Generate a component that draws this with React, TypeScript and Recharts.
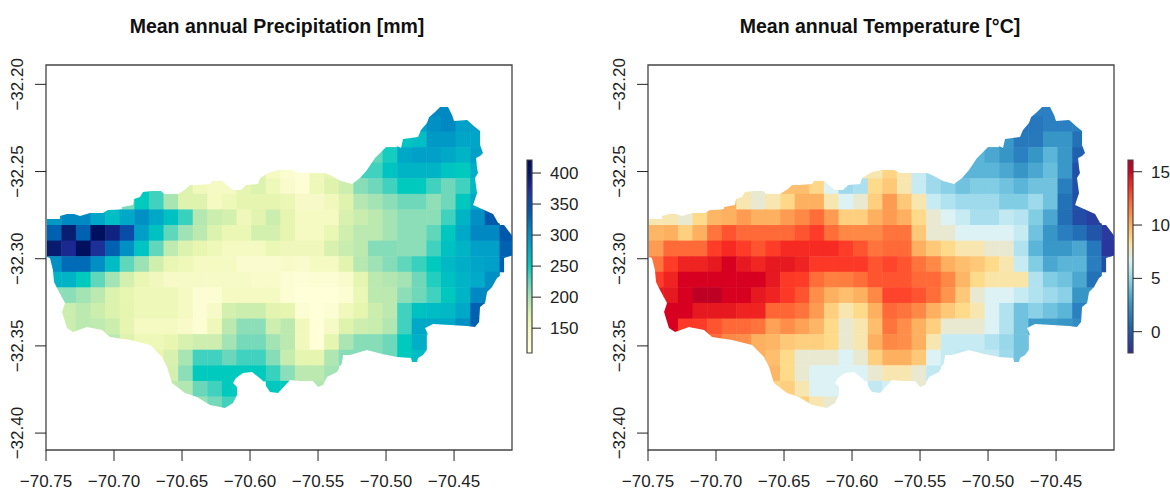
import React from "react";
import { ScatterChart, Scatter, XAxis, YAxis, ReferenceArea } from "recharts";

const n = null;
const xTicks = [-70.75, -70.7, -70.65, -70.6, -70.55, -70.5, -70.45];
const yTicks = [-32.2, -32.25, -32.3, -32.35, -32.4];
const X_DOMAIN: [number, number] = [-70.75, -70.4074];
const Y_DOMAIN: [number, number] = [-32.4097, -32.1889];
const LON0 = -70.7493;
const LAT0 = -32.2093;
const D_LON = 0.010735;
const D_LAT = 0.00894;

const precipTicks = [150, 200, 250, 300, 350, 400];
const precipRange: [number, number] = [110, 421];
const tempTicks = [0, 5, 10, 15];
const tempRange: [number, number] = [-2, 16.1];

const precipRampValues = [110, 118, 128, 135, 142, 147, 153, 157, 161, 165, 170, 175, 181, 190, 200, 210, 220, 235, 250, 262, 270, 280, 287, 300, 308, 328, 340, 352, 372, 378, 392, 415, 421];
const precipRampColors = ["#FFFFD9", "#FFFFD8", "#FCFDD2", "#F9FBCC", "#F6FAC6", "#F4FAC2", "#F0F8BC", "#EEF8B8", "#EAF6B4", "#E6F5B0", "#DFF3AF", "#D8F1AE", "#CDEEAE", "#BBE9B0", "#A4E3B4", "#8CDEB8", "#70D8BA", "#40D2BE", "#00CABE", "#00BCC4", "#00B4C6", "#00A8C8", "#00A0C8", "#0090C4", "#0088C2", "#0066B4", "#0058AC", "#0A4CA8", "#1C3098", "#1A2890", "#081E70", "#000F5E", "#000D58"];

const tempRampValues = [-2, -1.4, -0.4, 0.6, 1.7, 2.7, 3.7, 4.6, 5.4, 6.1, 6.8, 7.4, 8, 8.4, 8.7, 9.3, 10, 10.7, 11.5, 12.1, 12.6, 13.2, 13.7, 14.3, 15, 15.7, 16.1];
const tempRampColors = ["#2B2F95", "#2A3A9E", "#2050A8", "#1F68B2", "#2A80C0", "#3A98C8", "#5BB5D8", "#80CDE4", "#A8DEEE", "#C6EBF3", "#DDF2F5", "#E9E9D2", "#F8E6B0", "#FEE090", "#FED888", "#FDC574", "#FDB060", "#FE9850", "#FE7E40", "#FF6A38", "#FE5530", "#FE3C28", "#F62A22", "#E81C20", "#D70020", "#C40024", "#BD0026"];

// [first column, values] per raster row, north to south
const precipitation: [number, (number | null)[]][] = [
  [26, [308, 308]],
  [25, [287, 300, 308, 287, 287]],
  [24, [255, 260, 293, 293, 283, 283]],
  [22, [225, 245, 280, 287, 287, 280, 270, 287]],
  [14, [170, 147, 130, 125, 157, 165, n, 235, 235, 255, 270, 270, 270, 255, 250, 275]],
  [6, [250, 235, n, 170, 153, 145, 145, 165, 172, 157, 135, 125, 157, 170, 181, 212, 220, 235, 250, 250, 235, 220, 235, 265]],
  [5, [215, 250, 235, 198, 170, 170, 147, 157, 165, 165, 165, 160, 140, 140, 153, 170, 193, 200, 210, 220, 220, 208, 220, 252, 280]],
  [0, [293, 308, 308, 283, 260, 280, 300, 280, 258, 237, 193, 182, 178, 155, 167, 182, 165, 147, 147, 147, 175, 183, 190, 200, 210, 210, 210, 235, 270, 300, 340]],
  [0, [332, 392, 332, 415, 385, 352, 288, 258, 225, 202, 190, 172, 160, 160, 177, 177, 165, 147, 147, 160, 180, 190, 190, 200, 210, 210, 225, 252, 280, 308, 308, 340]],
  [0, [395, 378, 415, 372, 332, 300, 255, 225, 188, 172, 163, 157, 147, 147, 147, 160, 155, 155, 155, 175, 183, 190, 213, 213, 210, 210, 235, 258, 270, 287, 287, 332]],
  [0, [300, 325, 325, 300, 262, 225, 203, 180, 161, 157, 147, 147, 147, 132, 132, 132, 138, 135, 147, 147, 168, 192, 202, 213, 225, 237, 250, 265, 275, 283, 287, 332]],
  [0, [270, 270, 250, 225, 200, 178, 161, 152, 142, 142, 142, 142, 142, 142, 136, 136, 128, 122, 128, 128, 135, 165, 190, 194, 200, 220, 242, 258, 270, 278, 300]],
  [0, [210, 210, 200, 190, 172, 163, 157, 157, 157, 147, 128, 128, 147, 147, 147, 147, 128, 118, 118, 118, 126, 160, 190, 190, 210, 220, 235, 252, 270, 308, 308]],
  [0, [182, 182, 190, 182, 172, 165, 157, 157, 157, 147, 128, 142, 178, 182, 182, 167, 165, 128, 118, 128, 153, 165, 182, 190, 235, 258, 262, 265, 280, 332]],
  [1, [182, 190, 188, 182, 165, 147, 147, 147, 138, 128, 157, 190, 210, 210, 181, 190, 153, 118, 142, 170, 181, 183, 194, 235, 280, 280, 280, 300, 332]],
  [4, [190, 170, 157, 157, 163, 175, 181, 181, 200, 218, 218, 200, 190, 153, 118, 165, 197, 212, 212, 220, 250, 275]],
  [7, [163, 175, 198, 235, 235, 222, 235, 235, 212, 184, 165, 165, 195, 212, 212, 212, 220, 250, 262]],
  [8, [177, 210, 250, 250, 250, 250, 250, 237, 210, 190, 190, 200]],
  [8, [190, 194, 222, 235, 250, n, n, 252, 250, n, 195]],
  [10, [205, 218, 235]],
];

const temperature: [number, (number | null)[]][] = [
  [26, [1.7, 1.7]],
  [25, [1.3, 1.3, 1.7, 1.7, 1.7]],
  [24, [2.7, 1.4, 1.4, 2.6, 2.6, 1]],
  [22, [3.7, 3.2, 2.6, 1.7, 2.6, 3.7, 2.7, 0.3]],
  [14, [8, 8, 8.8, 8, 6.1, 5.2, n, 3.7, 3.7, 3.7, 3.2, 2.6, 3.2, 4, 2.7, -0.4]],
  [6, [8, 7.4, n, 9.5, 9.5, 8.7, 6.8, 5.2, 5.5, 8.6, 9.2, 8, 6.1, 5.2, 4.8, 4.2, 4.6, 4.6, 4.2, 3.7, 4.2, 4.2, 1.6, -0.4]],
  [5, [10, 8, 7.4, 8, 8.7, 10, 10, 8, 6.8, 7.4, 9, 10.6, 9.2, 8, 6.1, 5.6, 5.2, 5.2, 5.2, 4.6, 4.6, 5.2, 4.2, 1, -0.4]],
  [0, [8, 8, 7.4, 8.6, 9.8, 10, 10.6, 10, 10, 10.6, 11.2, 12, 10.6, 9, 9, 10, 10.6, 10, 8.6, 7.4, 6.8, 6.1, 5.4, 5.4, 6, 5.7, 4.6, 3.2, 0.9, -0.6, -1.2]],
  [0, [9.8, 10, 9, 10, 11.8, 12.6, 12.1, 12.1, 12.1, 12.1, 12.6, 13.2, 12, 11.2, 11.2, 11.2, 11.8, 11.8, 9.2, 7.4, 7.4, 6.8, 6.8, 6.8, 6.8, 6.1, 4.2, 2.6, 1.6, 0.9, -0.2, -1.4]],
  [0, [10.6, 12.1, 12.1, 12.1, 13.2, 13.7, 13.2, 12.6, 13.2, 13.7, 13.7, 13.7, 13.7, 13.2, 12.6, 11.8, 12.1, 12.1, 10, 9.2, 8.6, 8, 8, 7.4, 7.4, 5.6, 3.7, 2.7, 2.7, 3.2, 1.3, -1.6]],
  [0, [11.8, 13.2, 14, 14, 14.4, 15, 14.4, 13.9, 14.4, 14.4, 14, 13.3, 13.3, 13.3, 13.3, 12.6, 13, 12.6, 11.8, 11.2, 10, 9.5, 9.2, 8.6, 8, 6.1, 4.6, 3.2, 3.7, 3.7, 1.6, -0.5]],
  [0, [13.2, 14, 15, 15, 15, 15, 15, 15, 14.4, 13.3, 13.2, 12, 11.4, 11.5, 12, 12.6, 12.6, 12.6, 12.1, 12.1, 11.2, 9.8, 8.6, 8.1, 8.1, 8.1, 5.6, 4.6, 4.2, 3.2, 1]],
  [0, [14.4, 14.4, 15, 16, 16, 15, 15, 14.4, 14, 13.3, 12.6, 11, 10, 9.5, 10, 11.2, 13, 13, 12.6, 12, 10.8, 9.2, 7.4, 6.8, 6.8, 6.1, 5.6, 5.2, 4.8, 2.6, 2.6]],
  [0, [15, 15, 15, 14.4, 14.4, 14.4, 14, 14, 12.2, 12.2, 11.8, 10.6, 9, 8, 8.6, 10, 12.1, 11.8, 11.2, 10, 9.2, 8.6, 8, 6.8, 5.6, 4.2, 4.8, 4.2, 3.7, 1.7]],
  [1, [15, 13.3, 13.2, 12.6, 12.1, 12.1, 11.8, 10.4, 11, 10.4, 9.8, 8.6, 7.4, 8, 9.5, 11.8, 11, 10, 9, 7.4, 7.4, 7.4, 6.8, 5.6, 4.2, 2.8, 2.8, 2.6, 2.2]],
  [4, [12.1, 11.2, 11, 10, 9.8, 9.2, 9, 9, 8.6, 7.4, 8, 10, 11.2, 11, 10, 8, 6.1, 6.1, 6.1, 5.6, 5.1, 4.2]],
  [7, [10, 9.5, 8.6, 7.4, 7.4, 7.4, 6.8, 7.4, 9, 10, 10, 9.2, 6.8, 6.1, 6, 6, 6, 5.2, 4.2]],
  [8, [9.8, 8.6, 7.4, 6.8, 6.8, 6.8, 6.8, 7.4, 8, 8, 7.4, 6]],
  [8, [8.8, 9, 8, 6.8, 6.8, n, n, 6, 6.5, n, 7.4]],
  [10, [9, 8, 7.4]],
];

// catchment outline, [lon, lat]
const outline: [number, number][] = [
  [-70.7493, -32.2772], [-70.7397, -32.2772], [-70.7397, -32.2755], [-70.7346, -32.2744], [-70.7294, -32.2744], [-70.725, -32.2755], [-70.7176, -32.2738], [-70.7081, -32.2738], [-70.7044, -32.2721], [-70.6941, -32.2715],
  [-70.6941, -32.2704], [-70.686, -32.2692], [-70.6853, -32.2658], [-70.6809, -32.2646], [-70.6787, -32.2618], [-70.6721, -32.2612], [-70.6654, -32.2612], [-70.6632, -32.2629], [-70.6529, -32.2629], [-70.6471, -32.26],
  [-70.6441, -32.2577], [-70.639, -32.2577], [-70.6294, -32.2572], [-70.6279, -32.2554], [-70.6206, -32.2554], [-70.6162, -32.2583], [-70.6125, -32.2606], [-70.6066, -32.2606], [-70.6029, -32.2577], [-70.5941, -32.2572],
  [-70.5926, -32.2537], [-70.5853, -32.2503], [-70.5779, -32.2491], [-70.5691, -32.2491], [-70.5647, -32.2509], [-70.5581, -32.2509], [-70.5449, -32.2509], [-70.5397, -32.2526], [-70.5331, -32.2554], [-70.525, -32.2572],
  [-70.5191, -32.2537], [-70.514, -32.2491], [-70.5081, -32.2423], [-70.5029, -32.2382], [-70.4993, -32.2354], [-70.4919, -32.2354], [-70.489, -32.2365], [-70.4875, -32.2314], [-70.4765, -32.2302], [-70.4743, -32.2262],
  [-70.4699, -32.2222], [-70.4684, -32.2188], [-70.464, -32.2159], [-70.4603, -32.213], [-70.4544, -32.213], [-70.4515, -32.2176], [-70.45, -32.221], [-70.4404, -32.2205], [-70.4346, -32.2245], [-70.4309, -32.2268],
  [-70.4309, -32.2348], [-70.4287, -32.2394], [-70.4309, -32.2411], [-70.4338, -32.2423], [-70.4331, -32.248], [-70.4324, -32.2509], [-70.4346, -32.2537], [-70.4331, -32.2623], [-70.436, -32.2692], [-70.4279, -32.2721],
  [-70.4213, -32.2744], [-70.4176, -32.2795], [-70.4132, -32.2807], [-70.4088, -32.2853], [-70.4066, -32.2876], [-70.4066, -32.2979], [-70.4132, -32.2996], [-70.4132, -32.3082], [-70.4184, -32.3111], [-70.4221, -32.3162],
  [-70.4257, -32.3191], [-70.4272, -32.3254], [-70.4309, -32.3277], [-70.4316, -32.3363], [-70.4346, -32.3392], [-70.4404, -32.3386], [-70.4529, -32.338], [-70.4654, -32.3374], [-70.4713, -32.3397], [-70.4691, -32.3438],
  [-70.4691, -32.3512], [-70.4728, -32.3552], [-70.4765, -32.3569], [-70.4772, -32.3592], [-70.4809, -32.3592], [-70.4816, -32.3569], [-70.4919, -32.3564], [-70.5029, -32.3546], [-70.514, -32.3524], [-70.5265, -32.3552],
  [-70.5316, -32.3552], [-70.5324, -32.3598], [-70.536, -32.365], [-70.5434, -32.3678], [-70.5463, -32.3724], [-70.55, -32.3736], [-70.5537, -32.3701], [-70.5632, -32.3701], [-70.5706, -32.3696], [-70.5794, -32.377],
  [-70.5853, -32.3764], [-70.5912, -32.3696], [-70.5985, -32.365], [-70.6051, -32.3655], [-70.6103, -32.3684], [-70.6125, -32.3713], [-70.6096, -32.3736], [-70.6096, -32.3782], [-70.6125, -32.3827], [-70.6184, -32.3856],
  [-70.6294, -32.3839], [-70.639, -32.3793], [-70.6478, -32.377], [-70.6574, -32.3713], [-70.661, -32.3621], [-70.6647, -32.3564], [-70.6735, -32.3495], [-70.6882, -32.3466], [-70.7029, -32.3449], [-70.7088, -32.3409],
  [-70.7199, -32.3392], [-70.7301, -32.342], [-70.7346, -32.3397], [-70.7382, -32.3306], [-70.736, -32.3254], [-70.7412, -32.318], [-70.7441, -32.3134], [-70.7449, -32.3065], [-70.7471, -32.2996], [-70.7493, -32.299],
];

const FONT = '"Liberation Sans", Arial, sans-serif';
const INK = "#222";
const FRAME = "#444";
const PLOT_W = 466;
const PLOT_H = 385;
const CHART_W = 520;
const CHART_H = 491;
const TICK_FONT = 17;

const hexToRgb = (h: string) => [parseInt(h.slice(1, 3), 16), parseInt(h.slice(3, 5), 16), parseInt(h.slice(5, 7), 16)];

function colorAt(v: number, values: number[], colors: string[]) {
  if (v <= values[0]) return colors[0];
  for (let i = 1; i < values.length; i++) {
    if (v <= values[i]) {
      const t = (v - values[i - 1]) / (values[i] - values[i - 1]);
      const a = hexToRgb(colors[i - 1]);
      const b = hexToRgb(colors[i]);
      return `rgb(${a.map((c, k) => Math.round(c + (b[k] - c) * t)).join(",")})`;
    }
  }
  return colors[colors.length - 1];
}

const minus = (s: string) => s.replace("-", "\u2212");

function RasterPanel({ rows, rampValues, rampColors, clipId, left }: any) {
  const cells = rows.flatMap(([start, values]: any, r: number) =>
    values.flatMap((v: number | null, i: number) =>
      v === null ? [] : [{ lon: LON0 + (start + i + 0.5) * D_LON, lat: LAT0 - (r + 0.5) * D_LAT, v }]
    )
  );
  const outlinePoints = outline.map(([lon, lat]) => ({ lon, lat }));
  const cellW = (PLOT_W / (X_DOMAIN[1] - X_DOMAIN[0])) * D_LON;
  const cellH = (PLOT_H / (Y_DOMAIN[1] - Y_DOMAIN[0])) * D_LAT;
  return (
    <div style={{ position: "absolute", left, top: 0 }}>
      <ScatterChart width={CHART_W} height={CHART_H} margin={{ top: 65, right: CHART_W - 46 - PLOT_W, bottom: 0, left: 0 }}>
        <XAxis
          type="number"
          dataKey="lon"
          domain={X_DOMAIN}
          ticks={xTicks}
          interval={0}
          allowDataOverflow
          height={CHART_H - 65 - PLOT_H}
          tickSize={11}
          tickMargin={0}
          axisLine={false}
          tickLine={{ stroke: INK, strokeWidth: 1 }}
          tick={({ x, y, payload }: any) => (
            <text x={x} y={y + 26} textAnchor="middle" fontFamily={FONT} fontSize={TICK_FONT} fill={INK}>
              {minus(payload.value.toFixed(2))}
            </text>
          )}
        />
        <YAxis
          type="number"
          dataKey="lat"
          domain={Y_DOMAIN}
          ticks={yTicks}
          interval={0}
          allowDataOverflow
          width={46}
          tickSize={11}
          tickMargin={0}
          axisLine={false}
          tickLine={{ stroke: INK, strokeWidth: 1 }}
          tick={({ x, y, payload }: any) => (
            <text x={23} y={y} transform={`rotate(-90 23 ${y})`} textAnchor="middle" fontFamily={FONT} fontSize={TICK_FONT} fill={INK}>
              {minus(payload.value.toFixed(2))}
            </text>
          )}
        />
        <Scatter
          data={outlinePoints}
          isAnimationActive={false}
          shape={() => <g />}
          line={(p: any) => (
            <clipPath id={clipId}>
              <polygon points={p.points.map((q: any) => `${q.x},${q.y}`).join(" ")} />
            </clipPath>
          )}
        />
        <Scatter
          data={cells}
          isAnimationActive={false}
          shape={(p: any) => (
            <rect
              x={p.cx - cellW / 2 - 0.25}
              y={p.cy - cellH / 2 - 0.25}
              width={cellW + 0.5}
              height={cellH + 0.5}
              fill={colorAt(p.payload.v, rampValues, rampColors)}
              clipPath={`url(#${clipId})`}
            />
          )}
        />
        <ReferenceArea
          x1={X_DOMAIN[0]}
          x2={X_DOMAIN[1]}
          y1={Y_DOMAIN[0]}
          y2={Y_DOMAIN[1]}
          ifOverflow="visible"
          fill="none"
          stroke={FRAME}
          strokeWidth={1.3}
        />
      </ScatterChart>
    </div>
  );
}

function ColorBar({ left, width, range, ticks, rampValues, rampColors, gradientId }: any) {
  const span = range[1] - range[0];
  const ends = [
    { a: 0, b: range[0] },
    { a: 1, b: range[1] },
  ];
  return (
    <div style={{ position: "absolute", left, top: 0 }}>
      <ScatterChart width={width} height={CHART_H} margin={{ top: 160, right: 0, bottom: 138, left: 7 }}>
        <defs>
          <linearGradient id={gradientId} x1="0" y1="1" x2="0" y2="0">
            {rampValues.map((v: number, i: number) => (
              <stop key={i} offset={(v - range[0]) / span} stopColor={rampColors[i]} />
            ))}
          </linearGradient>
        </defs>
        <XAxis type="number" dataKey="a" domain={[0, 1]} allowDataOverflow hide />
        <YAxis
          type="number"
          dataKey="b"
          orientation="right"
          domain={range}
          ticks={ticks}
          interval={0}
          allowDataOverflow
          width={width - 12}
          tickSize={9}
          tickMargin={0}
          axisLine={false}
          tickLine={{ stroke: INK, strokeWidth: 1 }}
          tick={({ x, y, payload }: any) => (
            <text x={x + 9} y={y + 6} textAnchor="start" fontFamily={FONT} fontSize={TICK_FONT} fill={INK}>
              {payload.value}
            </text>
          )}
        />
        <Scatter data={ends} isAnimationActive={false} shape={() => <g />} />
        <ReferenceArea
          x1={0}
          x2={1}
          y1={range[0]}
          y2={range[1]}
          ifOverflow="visible"
          fill={`url(#${gradientId})`}
          fillOpacity={1}
          stroke={FRAME}
          strokeWidth={1.2}
        />
      </ScatterChart>
    </div>
  );
}

const titleStyle = (center: number): React.CSSProperties => ({
  position: "absolute",
  left: center - 250,
  width: 500,
  top: 16,
  textAlign: "center",
  fontFamily: FONT,
  fontWeight: 700,
  fontSize: 19.5,
  lineHeight: "20px",
  color: "#111",
});

export default function App() {
  return (
    <div style={{ position: "absolute", left: 0, top: 0, width: 1170, height: 491, overflow: "hidden", background: "#fff" }}>
      <div style={titleStyle(277)}>Mean annual Precipitation [mm]</div>
      <div style={titleStyle(880)}>Mean annual Temperature [°C]</div>
      <RasterPanel rows={precipitation} rampValues={precipRampValues} rampColors={precipRampColors} clipId="basinA" left={0} />
      <RasterPanel rows={temperature} rampValues={tempRampValues} rampColors={tempRampColors} clipId="basinB" left={602} />
      <ColorBar left={520} width={70} range={precipRange} ticks={precipTicks} rampValues={precipRampValues} rampColors={precipRampColors} gradientId="barA" />
      <ColorBar left={1121} width={49} range={tempRange} ticks={tempTicks} rampValues={tempRampValues} rampColors={tempRampColors} gradientId="barB" />
    </div>
  );
}
